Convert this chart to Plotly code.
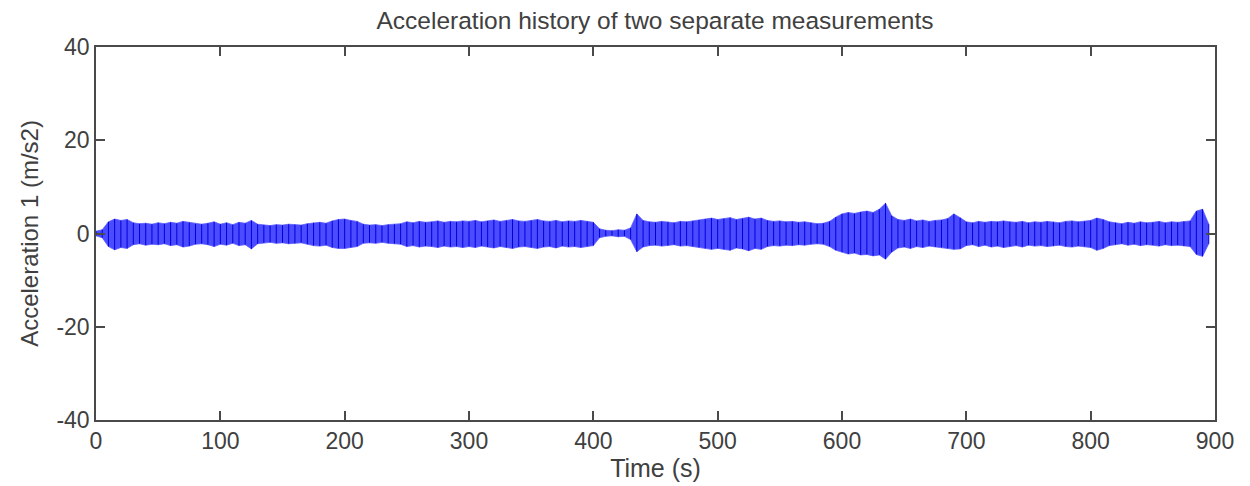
import plotly.graph_objects as go

# Envelope of the acceleration signal, read every 5 s from the picture
time_s = [i * 5 for i in range(180)]

upper = [
    0.5, 0.8, 2.5, 3.1, 2.8, 3.0, 2.3, 2.1, 2.2, 2.0, 2.3, 2.1, 2.4, 2.2, 2.6, 2.4, 2.1, 2.0, 2.2, 2.5,
    2.0, 2.3, 1.9, 2.4, 2.2, 2.8, 2.0, 1.8, 1.7, 1.9, 1.8, 2.0, 1.9, 1.8, 2.1, 2.3, 2.4, 2.2, 2.7, 3.0,
    3.1, 2.8, 2.6, 2.0, 1.8, 1.9, 1.7, 1.9, 2.0, 2.1, 2.5, 2.3, 2.6, 2.4, 2.5, 2.7, 2.4, 2.6, 2.5, 2.7,
    2.6, 2.8, 2.5, 2.7, 2.9, 2.6, 2.8, 3.0, 2.7, 2.6, 2.8, 3.0, 2.7, 2.6, 2.8, 2.5, 2.7, 2.6, 2.8, 2.6,
    2.4, 1.0, 0.7, 0.6, 0.8, 0.7, 1.2, 4.2, 2.8, 2.5, 2.4, 2.6, 2.5, 2.3, 2.6, 2.5, 2.7, 2.9, 3.1, 3.3,
    3.0, 3.2, 3.4, 3.0, 3.2, 3.5, 3.1, 3.3, 2.8, 2.6, 2.7, 2.5, 2.6, 2.4, 2.5, 2.3, 2.1, 2.2, 2.6, 3.5,
    4.2, 4.5, 4.3, 4.6, 4.8, 4.5, 5.2, 6.5, 3.8, 3.0, 2.8, 3.1, 2.7, 2.9, 2.6, 2.8, 2.9, 3.2, 4.2, 3.4,
    2.5, 2.3, 2.6, 2.4, 2.6, 2.5, 2.7, 2.5, 2.4, 2.6, 2.3, 2.5, 2.4, 2.6, 2.5, 2.3, 2.6, 2.7, 2.5, 2.6,
    2.8, 3.3, 3.0, 2.5, 2.3, 2.1, 2.4, 2.2, 2.5, 2.3, 2.4, 2.6, 2.3, 2.5, 2.4, 2.6, 2.7, 4.8, 5.2, 2.0,
]

lower = [
    -0.5, -0.9, -2.8, -3.5, -3.0, -3.2, -2.4, -2.2, -2.5, -2.3, -2.4, -2.2, -2.6, -2.4, -2.9, -2.7, -2.3, -2.2, -2.4, -2.8,
    -2.3, -2.5, -2.1, -2.6, -2.4, -3.3, -2.2, -2.0, -1.9, -2.1, -2.0, -2.2, -2.1, -2.0, -2.3, -2.6, -2.7, -2.5, -3.0, -3.2,
    -3.2, -3.0, -2.8, -2.1, -2.0, -2.1, -1.9, -2.1, -2.2, -2.3, -2.8, -2.6, -2.9, -2.7, -2.8, -3.0, -2.7, -2.9, -2.8, -3.0,
    -2.8, -3.0, -2.7, -2.9, -3.1, -2.8, -3.0, -3.2, -2.9, -2.8, -3.0, -3.2, -2.9, -2.8, -3.1, -2.7, -2.9, -2.8, -3.0, -2.8,
    -2.6, -0.9, -0.6, -0.5, -0.7, -0.6, -1.3, -3.9, -2.9, -2.6, -2.5, -2.7, -2.6, -2.4, -2.7, -2.6, -2.8, -3.0, -3.2, -3.4,
    -3.2, -3.4, -3.6, -3.1, -3.3, -3.7, -3.2, -3.4, -2.8, -2.6, -2.7, -2.5, -2.6, -2.4, -2.5, -2.3, -2.2, -2.3, -2.8, -3.6,
    -4.0, -4.4, -4.2, -4.6, -4.5, -4.8, -4.6, -5.5, -4.0, -3.1, -2.9, -3.2, -2.8, -3.0, -2.7, -2.9, -3.0, -3.2, -3.4, -3.3,
    -2.6, -2.4, -2.8, -2.5, -2.9, -2.7, -3.0, -2.8, -2.6, -2.9, -2.5, -2.7, -2.6, -2.8, -2.7, -2.5, -2.8, -2.9, -2.7, -2.8,
    -3.0, -3.6, -3.2, -2.6, -2.4, -2.2, -2.5, -2.3, -2.6, -2.4, -2.5, -2.7, -2.4, -2.6, -2.5, -2.7, -2.8, -4.5, -4.9, -2.2,
]

x_ticks = [0, 100, 200, 300, 400, 500, 600, 700, 800, 900]
y_ticks = [-40, -20, 0, 20, 40]

FONT = "Liberation Sans, Arial, sans-serif"
TXT = "#404040"
AX = "#4a4a4a"

fig = go.Figure()

# filled envelope band
fig.add_trace(go.Scatter(x=time_s, y=upper, mode="lines",
                         line=dict(width=0.8, color="rgb(90,90,255)"),
                         hoverinfo="skip", showlegend=False))
fig.add_trace(go.Scatter(x=time_s, y=lower, mode="lines", fill="tonexty",
                         fillcolor="rgb(75,75,255)",
                         line=dict(width=0.8, color="rgb(90,90,255)"),
                         hoverinfo="skip", showlegend=False))

# vertical strokes for texture
sx, sy = [], []
for t, u, l in zip(time_s, upper, lower):
    sx += [t, t, None]
    sy += [u, l, None]
fig.add_trace(go.Scatter(x=sx, y=sy, mode="lines",
                         line=dict(width=1, color="rgb(0,0,220)"),
                         hoverinfo="skip", showlegend=False))

fig.update_layout(
    width=1250, height=486,
    margin=dict(l=88, r=43, t=39, b=74),
    paper_bgcolor="white", plot_bgcolor="white",
    font=dict(family=FONT, color=TXT, size=23),
    title=dict(text="Acceleration history of two separate measurements",
               x=0.5176, xanchor="center", y=0.975, yanchor="middle",
               font=dict(family=FONT, size=24.5, color=TXT)),
    showlegend=False,
)

fig.update_xaxes(
    range=[0, 900], tickvals=x_ticks, ticktext=[str(v) for v in x_ticks],
    ticks="inside", ticklen=9, tickwidth=1.5, tickcolor=AX,
    showline=True, linecolor=AX, linewidth=1.5, mirror="allticks",
    showgrid=False, zeroline=False,
    tickfont=dict(family=FONT, size=23, color=TXT),
    title=dict(text="Time (s)", font=dict(family=FONT, size=25, color=TXT), standoff=3),
)
fig.update_yaxes(
    range=[-40, 40], tickvals=y_ticks, ticktext=[str(v) for v in y_ticks],
    ticks="inside", ticklen=9, tickwidth=1.5, tickcolor=AX,
    showline=True, linecolor=AX, linewidth=1.5, mirror="allticks",
    showgrid=False, zeroline=False,
    tickfont=dict(family=FONT, size=23, color=TXT),
    title=dict(text="Acceleration 1 (m/s2)", font=dict(family=FONT, size=24, color=TXT), standoff=11),
)

fig.write_html("out.html")
